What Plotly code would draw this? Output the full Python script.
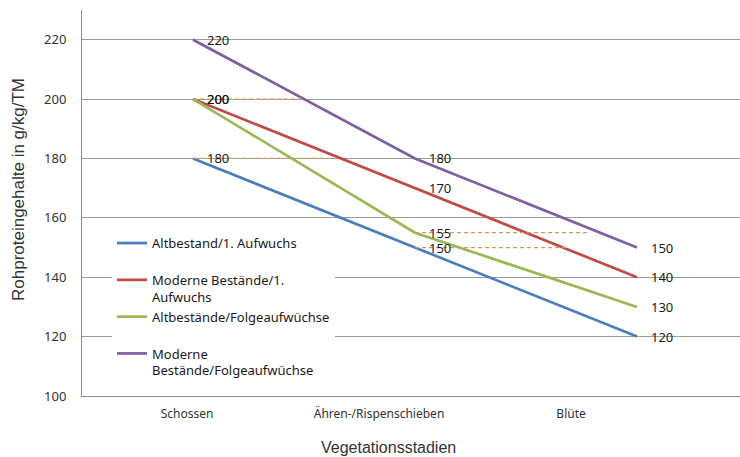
import plotly.graph_objects as go

# Growth stages and crude protein contents (g/kg DM)
stadien = ["Schossen", "Ähren-/Rispenschieben", "Blüte"]

altbestand_1 = [180, 150, 120]
moderne_1 = [200, 170, 140]
altbestand_folge = [200, 155, 130]
moderne_folge = [220, 180, 150]

namen = [
    "Altbestand/1. Aufwuchs<br> ",
    "Moderne Bestände/1.<br>Aufwuchs",
    "Altbestände/Folgeaufwüchse<br> ",
    "Moderne<br>Bestände/Folgeaufwüchse",
]
farben = ["#4A7EBB", "#BE4B48", "#98B954", "#7D60A0"]
reihen = [altbestand_1, moderne_1, altbestand_folge, moderne_folge]

# dashed leader lines: (stage index, value, length in category units)
leader = [(0, 200, 0.50), (0, 180, 0.66), (1, 155, 0.78), (1, 150, 0.68)]

y_ticks = [100, 120, 140, 160, 180, 200, 220]

label_font = dict(family="Noto Sans", size=13, color="#1a1a1a")

fig = go.Figure()

for name, color, werte in zip(namen, farben, reihen):
    fig.add_trace(go.Scatter(
        x=stadien, y=werte, mode="lines", name=name,
        line=dict(color=color, width=2.7),
        hoverinfo="skip",
    ))

# category labels on a separate overlaying axis
fig.add_trace(go.Scatter(
    x=stadien, y=altbestand_1, mode="markers", xaxis="x2",
    marker=dict(opacity=0), showlegend=False, hoverinfo="skip",
))

shapes = []
for idx, val, length in leader:
    shapes.append(dict(
        type="line", xref="x", yref="y",
        x0=idx, x1=idx + length, y0=val, y1=val,
        line=dict(color="#D19A5E", width=1.2, dash="4px,3px"),
        layer="above",
    ))

annotations = []
for werte in reihen:
    for stadium, v in zip(stadien, werte):
        annotations.append(dict(
            x=stadium, y=v, xref="x", yref="y", text=str(v),
            showarrow=False, xanchor="left", yanchor="middle",
            xshift=12, font=label_font,
        ))

annotations.append(dict(
    text="Vegetationsstadien", x=388, y=447, xref="paper", yref="paper",
    xanchor="center", yanchor="middle", showarrow=False,
    font=dict(family="Liberation Sans", size=16, color="#333333"),
))
annotations.append(dict(
    text="Rohproteingehalte in g/kg/TM", x=18, y=190, xref="paper", yref="paper",
    xanchor="center", yanchor="middle", textangle=-90, showarrow=False,
    font=dict(family="Liberation Sans", size=17, color="#333333"),
))

# convert pixel-based title positions to paper coordinates
L, R, T, B = 82, 0, 10, 61
W, H = 740, 457
pw, ph = W - L - R, H - T - B
for a in annotations[-2:]:
    a["x"] = (a["x"] - L) / pw
    a["y"] = (H - B - a["y"]) / ph

fig.update_layout(
    width=W, height=H,
    margin=dict(l=L, r=R, t=T, b=B, pad=0),
    paper_bgcolor="white", plot_bgcolor="white",
    xaxis=dict(
        type="category", categoryarray=stadien, range=[-0.5, 2.464],
        showticklabels=False, showgrid=False, zeroline=False,
        showline=True, linecolor="#8c8c8c", linewidth=1.3, ticks="",
    ),
    xaxis2=dict(
        type="category", categoryarray=stadien, overlaying="x", side="bottom",
        range=[-0.547, 2.88], showgrid=False, zeroline=False, showline=False,
        ticks="", ticklabelstandoff=9,
        tickfont=dict(family="Noto Sans", size=12, color="#333333"),
    ),
    yaxis=dict(
        range=[100, 230], tickvals=y_ticks, showgrid=True, gridcolor="#9a9a9a",
        gridwidth=1, zeroline=False, showline=True, linecolor="#8c8c8c",
        linewidth=1, ticks="", ticklabelstandoff=12,
        tickfont=dict(family="Noto Sans", size=13, color="#333333"),
    ),
    legend=dict(
        x=0.0456, y=0.435, xanchor="left", yanchor="top",
        bgcolor="white", borderwidth=0, valign="top",
        font=dict(family="Noto Sans", size=13, color="#1a1a1a"),
        itemwidth=30, tracegroupgap=0,
    ),
    shapes=shapes,
    annotations=annotations,
    showlegend=True,
)

fig.write_html("out.html")
